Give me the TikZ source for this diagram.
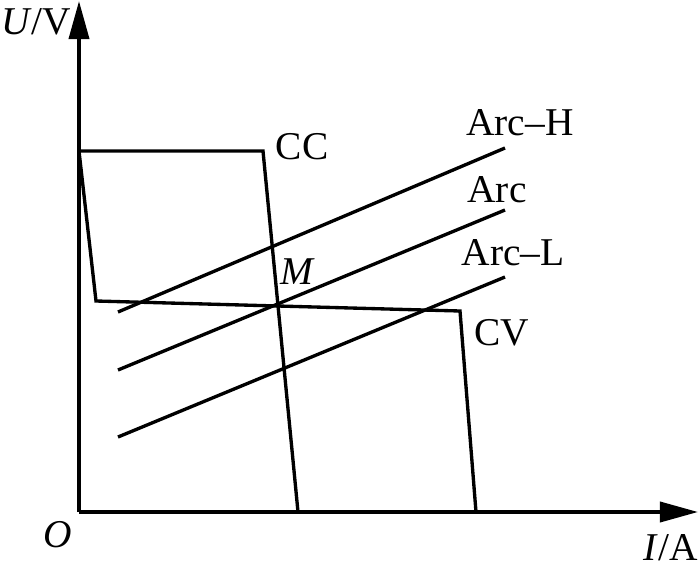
\documentclass[tikz,border=0pt]{standalone}
\usepackage{fontspec}
\setmainfont{Liberation Serif}
\usetikzlibrary{arrows.meta}
\tikzset{
	axis/.style={line width=1.05pt, -{Triangle[length=0.38cm, width=0.2cm]}},
	curve/.style={line width=0.95pt, line join=miter},
	lbl/.style={inner sep=0pt, font=\fontsize{11.2}{13}\selectfont}
}

\begin{document}
\begin{tikzpicture}[x=0.01cm, y=0.01cm]
			%%%%% START %%%%%
			\useasboundingbox (-79, -60) rectangle (621, 512);
			
			\coordinate (O) at (0, 0);
			\coordinate (Utip) at (0, 511);
			\coordinate (Itip) at (619, 0);
			
			\draw[axis] (O) -- (Utip);
			\draw[axis] (O) -- (Itip);
			
			% CC and CV
			\coordinate (top) at (0, 361);
			\coordinate (ccknee) at (184, 361);
			\coordinate (ccfoot) at (219, 0);
			\coordinate (cvknee1) at (17, 211);
			\coordinate (cvknee2) at (381, 201);
			\coordinate (cvfoot) at (397, 0);
			
			\draw[curve] (top) -- (ccknee) -- (ccfoot);
			\draw[curve] (top) -- (cvknee1) -- (cvknee2) -- (cvfoot);
			
			% arc lines
			\coordinate (arcHa) at (39, 200);
			\coordinate (arcHb) at (426, 364);
			\coordinate (arca) at (39, 142);
			\coordinate (arcb) at (426, 302);
			\coordinate (arcLa) at (39, 75);
			\coordinate (arcLb) at (426, 235);
			
			\draw[curve] (arcHa) -- (arcHb);
			\draw[curve] (arca) -- (arcb);
			\draw[curve] (arcLa) -- (arcLb);
			
			\node[lbl] (ulabel) at (-43, 490) {\textit{U}/V};
			\node[lbl] (olabel) at (-21, -23) {\textit{O}};
			\node[lbl] (ilabel) at (592, -36) {\textit{I}/A};
			\node[lbl] (cclabel) at (223, 365) {CC};
			\node[lbl] (mlabel) at (219, 240) {\textit{M}};
			\node[lbl] (arcHlabel) at (441, 389) {Arc--H};
			\node[lbl] (arclabel) at (418, 322) {Arc};
			\node[lbl] (arcLlabel) at (434, 259) {Arc--L};
			\node[lbl] (cvlabel) at (423, 179) {CV};
			%%%%% END %%%%%
\end{tikzpicture}
\end{document}
